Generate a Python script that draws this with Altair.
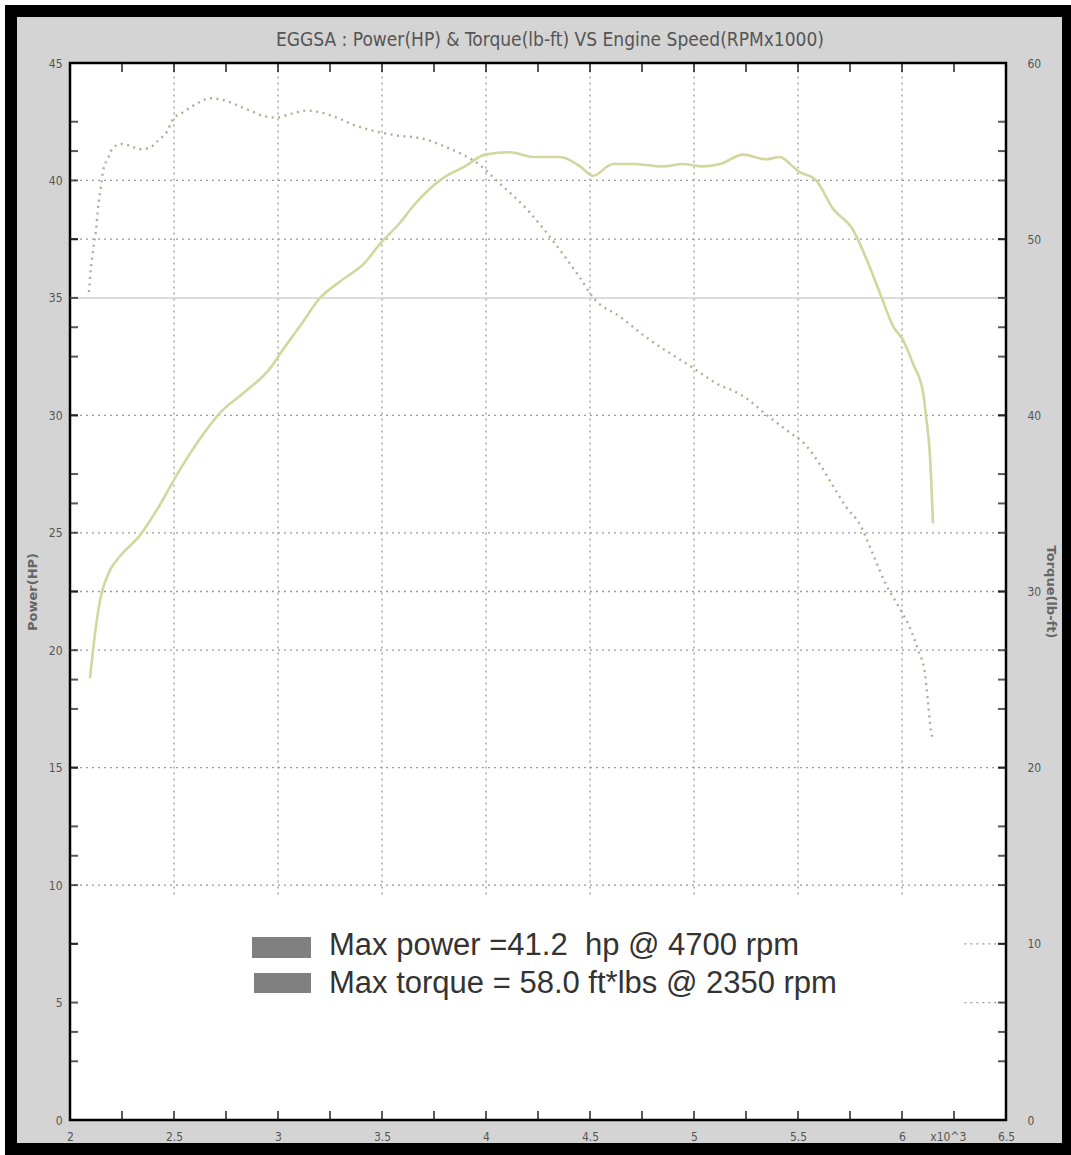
import altair as alt
import pandas as pd

# ---- measured curves (engine speed in thousands of rpm) ----
rpm_power = [2.096, 2.120, 2.144, 2.192, 2.240, 2.337, 2.433, 2.529, 2.625, 2.721,
             2.841, 2.962, 3.024, 3.106, 3.202, 3.298, 3.418, 3.490, 3.587, 3.649,
             3.793, 3.899, 3.995, 4.115, 4.226, 4.356, 4.452, 4.514, 4.611, 4.707,
             4.851, 4.947, 5.043, 5.125, 5.236, 5.346, 5.413, 5.462, 5.500, 5.587,
             5.668, 5.764, 5.827, 5.894, 5.957, 6.005, 6.053, 6.101, 6.115, 6.135,
             6.149]
power_hp = [18.8, 20.7, 22.1, 23.4, 24.0, 24.9, 26.2, 27.7, 29.0, 30.1,
            31.0, 32.0, 32.8, 33.8, 35.0, 35.7, 36.5, 37.3, 38.2, 38.9,
            40.1, 40.6, 41.1, 41.2, 41.0, 41.0, 40.6, 40.2, 40.7, 40.7,
            40.6, 40.7, 40.6, 40.7, 41.1, 40.9, 41.0, 40.7, 40.4, 40.0,
            38.8, 37.9, 36.7, 35.2, 33.8, 33.2, 32.2, 31.0, 30.0, 28.2,
            25.4]

rpm_torque = [2.091, 2.100, 2.111, 2.125, 2.135, 2.149, 2.159, 2.183, 2.207, 2.250,
              2.288, 2.337, 2.385, 2.423, 2.466, 2.495, 2.543, 2.611, 2.673, 2.736,
              2.803, 2.865, 2.928, 2.995, 3.058, 3.139, 3.202, 3.284, 3.361, 3.442,
              3.563, 3.697, 3.813, 3.971, 4.053, 4.212, 4.322, 4.452, 4.514, 4.644,
              4.774, 4.995, 5.125, 5.188, 5.260, 5.341, 5.452, 5.538, 5.606, 5.668,
              5.731, 5.798, 5.861, 5.923, 5.981, 6.043, 6.077, 6.111, 6.125, 6.139,
              6.149]
torque_lbft = [47.0, 48.3, 49.4, 50.5, 51.8, 53.0, 53.9, 54.6, 55.2, 55.4,
               55.3, 55.1, 55.2, 55.6, 56.1, 56.8, 57.2, 57.7, 58.0, 57.9,
               57.6, 57.3, 57.0, 56.9, 57.1, 57.3, 57.2, 56.9, 56.5, 56.2,
               55.9, 55.7, 55.2, 54.2, 53.3, 51.5, 49.9, 47.8, 46.7, 45.6,
               44.4, 42.7, 41.7, 41.4, 40.9, 40.1, 39.1, 38.3, 37.2, 36.0,
               34.8, 33.8, 32.1, 30.4, 29.2, 27.8, 26.7, 25.3, 23.7, 22.1,
               21.6]

# ---- axes, grid and tick values ----
x_labels = [2, 2.5, 3, 3.5, 4, 4.5, 5, 5.5, 6, 6.22, 6.5]
x_grid = [2.5, 3, 3.5, 4, 4.5, 5, 5.5, 6]
x_minor = [2.25, 2.5, 2.75, 3, 3.25, 3.5, 3.75, 4, 4.25, 4.5, 4.75, 5, 5.25,
           5.5, 5.75, 6, 6.25]
hp_labels = [0, 5, 10, 15, 20, 25, 30, 35, 40, 45]
hp_grid_dotted = [10, 15, 20, 25, 30, 40]
hp_grid_solid = [35]
hp_ticks = [2.5, 5, 7.5, 10, 12.5, 15, 17.5, 20, 22.5, 25, 27.5, 30, 32.5,
            35, 37.5, 40, 42.5]
tq_labels = [0, 10, 20, 30, 40, 50, 60]
tq_grid_dotted = [50, 30]
tq_ticks = [5, 10, 15, 20, 25, 30, 35, 40, 45, 50, 55]

title_text = "EGGSA : Power(HP) & Torque(lb-ft) VS Engine Speed(RPMx1000)"
legend_power = "Max power =41.2\u00a0\u00a0hp @ 4700 rpm"
legend_torque = "Max torque = 58.0 ft*lbs @ 2350 rpm"

W, H = 936, 1057
NARROW = "Liberation Sans Narrow, DejaVu Sans Condensed, Arial Narrow, sans-serif"
GRID = "#9a9a9a"
LINE = "#d2d69f"
DOTS = "#aeb092"
LABEL = "#555555"

xs = alt.Scale(domain=[2, 6.5], nice=False, zero=False)
hps = alt.Scale(domain=[0, 45], nice=False, zero=False)
tqs = alt.Scale(domain=[0, 60], nice=False, zero=False)

x_axis = alt.Axis(values=x_labels, ticks=False, domain=False, grid=False,
                  labelExpr="datum.value == 6.22 ? 'x10^3' : '' + datum.value",
                  labelFont=NARROW, labelFontSize=12, labelColor=LABEL,
                  labelPadding=11, labelFlush=False, title=None)

power_df = pd.DataFrame({"rpm": rpm_power, "hp": power_hp})
torque_df = pd.DataFrame({"rpm": rpm_torque, "tq": torque_lbft})
one = pd.DataFrame({"k": [0]})


def xenc(field="rpm:Q"):
    return alt.X(field, scale=xs, axis=x_axis)


# vertical dotted grid (stops above the annotation box)
vgrid = alt.Chart(pd.DataFrame({"rpm": x_grid})).mark_rule(
    color=GRID, strokeDash=[2, 4], strokeWidth=1.3
).encode(
    x=xenc(),
    y=alt.YDatum(9.6, scale=hps, axis=None),
    y2=alt.Y2Datum(45),
)

hgrid = alt.Chart(pd.DataFrame({"hp": hp_grid_dotted})).mark_rule(
    color=GRID, strokeDash=[2, 4], strokeWidth=1.3
).encode(y=alt.Y("hp:Q", scale=hps, axis=None))

hgrid_solid = alt.Chart(pd.DataFrame({"hp": hp_grid_solid})).mark_rule(
    color="#cfcfcf", strokeWidth=1.5
).encode(y=alt.Y("hp:Q", scale=hps, axis=None))

tgrid = alt.Chart(pd.DataFrame({"tq": tq_grid_dotted})).mark_rule(
    color=GRID, strokeDash=[2, 4], strokeWidth=1.3
).encode(y=alt.Y("tq:Q", scale=tqs, axis=None))

# short grid stubs visible right of the annotation box
hp_stub = alt.Chart(pd.DataFrame({"hp": [5]})).mark_rule(
    color=GRID, strokeDash=[2, 4], strokeWidth=1.3
).encode(
    x=alt.XDatum(6.3, scale=xs, axis=x_axis), x2=alt.X2Datum(6.5),
    y=alt.Y("hp:Q", scale=hps, axis=None),
)
tq_stub = alt.Chart(pd.DataFrame({"tq": [10]})).mark_rule(
    color=GRID, strokeDash=[2, 4], strokeWidth=1.3
).encode(
    x=alt.XDatum(6.3, scale=xs, axis=x_axis), x2=alt.X2Datum(6.5),
    y=alt.Y("tq:Q", scale=tqs, axis=None),
)

power_line = alt.Chart(power_df).mark_line(
    color=LINE, strokeWidth=2.6, interpolate="monotone"
).encode(
    x=xenc(),
    y=alt.Y("hp:Q", scale=hps, axis=alt.Axis(
        values=hp_labels, orient="left", ticks=False, domain=False, grid=False,
        labelFont=NARROW, labelFontSize=12, labelColor=LABEL, labelPadding=8,
        title="Power(HP)", titleFont="DejaVu Sans", titleFontSize=13,
        titleFontWeight="bold", titleColor="#666666", titlePadding=9)),
)

torque_line = alt.Chart(torque_df).mark_line(
    color=DOTS, strokeWidth=2.4, strokeDash=[2, 4.5], interpolate="monotone"
).encode(
    x=xenc(),
    y=alt.Y("tq:Q", scale=tqs, axis=alt.Axis(
        values=tq_labels, orient="right", ticks=False, domain=False, grid=False,
        labelFont=NARROW, labelFontSize=12, labelColor=LABEL, labelPadding=21,
        title="Torque(lb-ft)", titleFont="DejaVu Sans", titleFontSize=13,
        titleFontWeight="bold", titleColor="#666666", titlePadding=3)),
)

# inward frame ticks on all four sides
tick_style = dict(color="#111111", thickness=2)
bottom_ticks = alt.Chart(pd.DataFrame({"rpm": x_minor})).mark_tick(size=9, **tick_style).encode(
    x=xenc(), y=alt.value(H - 4.5))
top_ticks = alt.Chart(pd.DataFrame({"rpm": x_minor})).mark_tick(size=9, **tick_style).encode(
    x=xenc(), y=alt.value(4.5))
left_hp = alt.Chart(pd.DataFrame({"hp": hp_ticks})).mark_tick(size=8, **tick_style).encode(
    y=alt.Y("hp:Q", scale=hps, axis=None), x=alt.value(4))
left_tq = alt.Chart(pd.DataFrame({"tq": tq_ticks})).mark_tick(size=8, **tick_style).encode(
    y=alt.Y("tq:Q", scale=tqs, axis=None), x=alt.value(4))
right_hp = alt.Chart(pd.DataFrame({"hp": hp_ticks})).mark_tick(size=8, **tick_style).encode(
    y=alt.Y("hp:Q", scale=hps, axis=None), x=alt.value(W - 4))
right_tq = alt.Chart(pd.DataFrame({"tq": tq_ticks})).mark_tick(size=8, **tick_style).encode(
    y=alt.Y("tq:Q", scale=tqs, axis=None), x=alt.value(W - 4))

# annotation box: grey swatches with summary text
swatch1 = alt.Chart(one).mark_rect(color="#808080").encode(
    x=alt.value(182), x2=alt.value(241), y=alt.value(874), y2=alt.value(895))
swatch2 = alt.Chart(one).mark_rect(color="#808080").encode(
    x=alt.value(184), x2=alt.value(241), y=alt.value(910), y2=alt.value(930))
text_style = dict(align="left", baseline="middle", font="Liberation Sans",
                  fontSize=31, color="#333333")
text1 = alt.Chart(one).mark_text(**text_style).encode(
    x=alt.value(259), y=alt.value(883), text=alt.value(legend_power))
text2 = alt.Chart(one).mark_text(**text_style).encode(
    x=alt.value(259), y=alt.value(921), text=alt.value(legend_torque))

# chart heading, drawn above the plot frame
heading = alt.Chart(one).mark_text(
    align="center", baseline="middle", font=NARROW, fontSize=19, color="#555555"
).encode(x=alt.value(W / 2 + 12), y=alt.value(-23), text=alt.value(title_text))

# outer picture frame
frame_white = alt.Chart(one).mark_rect(fillOpacity=0, stroke="white", strokeWidth=5).encode(
    x=alt.value(-67.5), x2=alt.value(1100), y=alt.value(-60.5), y2=alt.value(1200))
frame_black = alt.Chart(one).mark_rect(fillOpacity=0, stroke="black", strokeWidth=12).encode(
    x=alt.value(-59), x2=alt.value(998), y=alt.value(-52), y2=alt.value(1086))

chart = alt.layer(
    vgrid, hgrid, hgrid_solid, tgrid, hp_stub, tq_stub,
    power_line, torque_line,
    bottom_ticks, top_ticks, left_hp, left_tq, right_hp, right_tq,
    swatch1, swatch2, text1, text2, heading,
    frame_white, frame_black,
).resolve_scale(
    y="independent"
).properties(
    width=W, height=H,
    autosize=alt.AutoSizeParams(type="none"),
    padding={"left": 70, "top": 63, "right": 65, "bottom": 35},
    background="#d4d4d4",
).configure_view(
    fill="white", stroke="black", strokeWidth=2.5
)

chart.save("out.html", embed_options={"renderer": "svg", "actions": False})
